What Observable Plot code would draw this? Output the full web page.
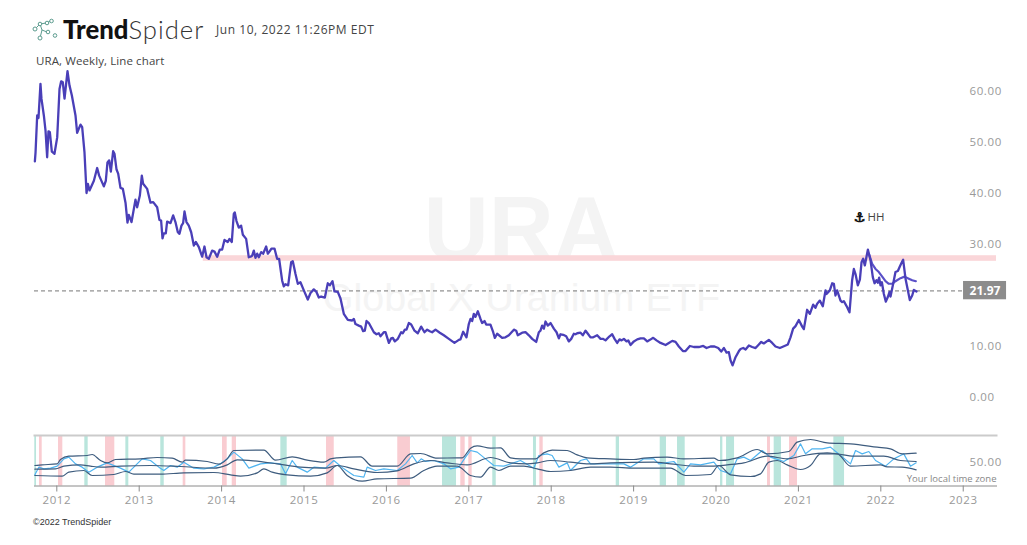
<!DOCTYPE html>
<html>
<head>
<meta charset="utf-8">
<script src="https://cdn.jsdelivr.net/npm/d3@7"></script>
<script src="https://cdn.jsdelivr.net/npm/@observablehq/plot@0.6"></script>
<style>
html,body{margin:0;padding:0;background:#fff;}
#page{position:relative;width:1027px;height:545px;overflow:hidden;font-family:"Open Sans",sans-serif;}
#page>*{position:absolute;}
#main{left:0;top:0;}
#panel{left:0;top:430px;}
#main svg,#panel svg{display:block;background:transparent;overflow:visible;}
#main svg g[aria-label="text"],#panel svg g[aria-label="text"]{letter-spacing:0;}
.brand{left:63px;top:13px;font-family:Lato,sans-serif;font-size:25.7px;line-height:32px;color:#111;white-space:nowrap;}
.brand b{font-weight:900;}
.brand span{font-weight:300;color:#333;letter-spacing:1px;}
.stamp{left:216px;top:21px;font-size:12px;line-height:18px;color:#444;letter-spacing:.55px;white-space:nowrap;}
.sym{left:36px;top:53px;font-size:11.5px;line-height:16px;color:#444;letter-spacing:.1px;white-space:nowrap;}
.copy{left:33px;top:516px;font-family:"Liberation Sans",sans-serif;font-size:9px;line-height:12px;color:#333;white-space:nowrap;}
</style>
</head>
<body>
<div id="page">
  <svg style="left:30px;top:16px" width="30" height="30" viewBox="0 0 30 30" fill="none" stroke="#5b9b8e" stroke-width="1">
    <path d="M5 13 L10 8 L12 14 L10 22 M12 14 L17 16 M10 8 L16 7 L21 5"/>
    <circle cx="5" cy="13" r="2" fill="#fff"/><circle cx="10" cy="8" r="1.8" fill="#fff"/><circle cx="10" cy="22" r="2" fill="#fff"/>
    <circle cx="17" cy="7" r="1.8" fill="#fff"/><circle cx="21.5" cy="5" r="1.8" fill="#fff"/><circle cx="18" cy="16" r="1.8" fill="#fff"/><circle cx="25" cy="19.5" r="1.8" fill="#fff"/>
  </svg>
  <div class="brand"><b>Trend</b><span>Spider</span></div>
  <div class="stamp">Jun 10, 2022 11:26PM EDT</div>
  <div class="sym">URA, Weekly, Line chart</div>
  <div id="main"></div>
  <div id="panel"></div>
  <div class="copy">©2022 TrendSpider</div>
</div>
<script>
const priceYears = [2011.746,2011.754,2011.774,2011.790,2011.814,2011.826,2011.855,2011.875,2011.895,2011.911,2011.928,2011.952,2011.984,2012.017,2012.045,2012.065,2012.085,2012.106,2012.142,2012.166,2012.195,2012.239,2012.259,2012.300,2012.320,2012.348,2012.373,2012.389,2012.409,2012.462,2012.502,2012.526,2012.583,2012.607,2012.627,2012.648,2012.668,2012.696,2012.712,2012.737,2012.757,2012.785,2012.814,2012.846,2012.870,2012.886,2012.919,2012.967,2012.987,2013.020,2013.044,2013.060,2013.109,2013.149,2013.182,2013.230,
2013.258,2013.278,2013.295,2013.311,2013.335,2013.351,2013.392,2013.424,2013.452,2013.481,2013.501,2013.525,2013.545,2013.562,2013.586,2013.614,2013.643,2013.675,2013.699,2013.736,2013.776,2013.804,2013.829,2013.857,2013.897,2013.926,2013.958,2013.990,2014.019,2014.047,2014.087,2014.108,2014.136,2014.160,2014.172,2014.193,2014.221,2014.249,2014.270,2014.310,2014.342,2014.363,2014.383,2014.403,2014.423,2014.444,2014.464,2014.492,2014.516,2014.553,2014.573,2014.597,2014.617,2014.654,2014.686,2014.710,2014.747,2014.767,2014.787,2014.820,2014.856,2014.876,2014.909,2014.937,2014.969,2015.010,2015.058,2015.091,2015.131,2015.163,2015.192,2015.220,2015.265,2015.301,2015.325,2015.358,2015.382,2015.422,2015.455,2015.495,
2015.544,2015.597,2015.617,2015.637,2015.677,2015.706,2015.730,2015.750,2015.771,2015.799,2015.860,2015.892,2015.920,2015.940,2015.981,2016.001,2016.042,2016.070,2016.090,2016.114,2016.151,2016.191,2016.211,2016.236,2016.256,2016.284,2016.313,2016.353,2016.393,2016.434,2016.474,2016.507,2016.539,2016.567,2016.608,2016.660,2016.709,2016.770,2016.838,2016.891,2016.911,2016.944,2016.984,2017.012,2017.033,2017.053,2017.073,2017.093,2017.122,2017.154,2017.174,2017.203,2017.223,2017.275,2017.308,2017.328,2017.356,2017.417,2017.457,2017.498,2017.559,2017.587,2017.607,2017.660,2017.700,2017.741,2017.781,2017.830,2017.862,2017.882,2017.902,2017.923,2017.943,2017.971,2018.004,2018.044,
2018.077,2018.105,2018.125,2018.158,2018.194,2018.226,2018.255,2018.287,2018.307,2018.328,2018.368,2018.396,2018.429,2018.457,2018.489,2018.522,2018.570,2018.611,2018.639,2018.671,2018.720,2018.752,2018.781,2018.813,2018.841,2018.866,2018.894,2018.926,2018.947,2018.975,2019.015,2019.056,2019.096,2019.137,2019.177,2019.210,2019.250,2019.290,2019.339,2019.400,2019.440,2019.481,2019.521,2019.561,2019.610,2019.642,2019.695,2019.743,2019.804,2019.857,2019.897,2019.946,2019.994,2020.039,2020.075,2020.108,2020.140,2020.168,2020.188,2020.213,2020.249,2020.290,2020.310,2020.342,2020.371,2020.411,2020.451,2020.492,2020.532,2020.561,
2020.592,2020.653,2020.694,2020.734,2020.787,2020.815,2020.843,2020.884,2020.916,2020.948,2020.977,2021.017,2021.058,2021.078,2021.118,2021.151,2021.191,2021.219,2021.240,2021.272,2021.308,2021.341,2021.353,2021.393,2021.422,2021.442,2021.462,2021.482,2021.523,2021.543,2021.563,2021.604,2021.632,2021.664,2021.685,2021.705,2021.733,2021.758,2021.778,2021.798,2021.818,2021.855,2021.887,2021.915,2021.936,2021.960,2021.976,2021.992,2022.008,2022.025,2022.049,2022.073,2022.097,2022.118,2022.130,2022.162,2022.190,2022.219,2022.243,2022.267,2022.283,2022.312,2022.364,2022.393,2022.413,2022.445];
const priceValues = [46.3,48.0,55.3,54.8,61.5,58.6,55.3,52.4,47.1,52.2,52.0,48.2,47.8,51.0,60.5,62.0,61.8,58.6,64.0,61.2,59.2,55.3,51.9,53.5,53.0,48.1,40.1,41.9,40.6,42.5,45.0,43.5,41.4,42.5,46.1,46.5,44.3,48.3,47.8,44.7,43.9,41.1,40.9,38.2,34.3,35.8,34.4,38.8,37.3,39.6,43.5,41.9,40.9,38.2,38.3,37.3,
34.8,34.7,31.2,32.2,32.2,34.5,34.2,35.7,34.4,32.4,32.1,33.7,34.2,36.5,34.4,33.7,32.4,29.8,30.5,29.5,27.6,29.6,27.5,27.2,28.8,28.6,27.6,29.0,29.0,30.9,30.5,31.1,30.5,36.0,36.3,34.6,33.3,33.7,31.9,31.1,27.5,27.6,27.8,28.8,27.4,28.2,27.5,28.5,28.2,29.6,28.2,28.7,29.2,29.2,27.2,27.2,22.9,21.8,22.2,22.0,26.5,26.7,24.2,22.3,22.6,21.0,19.2,20.5,21.2,20.7,19.6,19.8,19.6,22.4,22.0,22.8,20.8,20.7,19.4,16.4,
15.2,15.1,15.4,14.4,14.1,13.9,13.0,13.1,15.0,14.6,12.8,12.4,12.6,12.0,12.8,12.8,10.7,11.6,11.7,11.0,11.5,12.8,12.6,13.3,13.3,14.6,14.3,13.1,12.6,13.9,12.8,13.3,13.0,12.8,13.3,12.7,12.2,11.5,10.7,11.3,11.4,12.9,11.8,14.4,15.4,15.0,16.4,15.8,16.9,15.4,14.6,15.0,14.3,14.3,12.8,11.7,12.5,11.7,11.8,12.2,13.3,13.1,12.2,12.7,12.8,12.2,11.5,10.9,12.8,13.1,14.1,13.5,14.9,14.1,14.6,13.5,
12.8,11.6,12.4,12.3,12.0,11.0,11.5,12.5,12.4,12.6,12.7,12.2,13.1,12.5,11.8,11.8,12.2,11.5,11.5,11.2,12.0,12.4,11.5,10.7,11.4,11.2,11.5,11.0,11.2,10.3,11.0,11.4,11.6,11.6,11.0,11.3,11.7,11.2,10.7,10.3,10.7,11.1,10.9,10.0,9.1,9.1,10.1,9.9,9.9,10.1,9.7,10.0,10.0,9.7,9.0,9.7,8.8,8.9,7.3,6.3,7.9,9.1,9.5,9.7,9.4,10.2,9.9,9.7,10.4,10.9,
10.6,11.3,10.7,10.0,9.7,9.9,10.1,10.4,11.8,13.5,14.0,15.2,13.9,13.4,17.2,16.4,18.2,17.6,18.4,19.0,17.9,21.0,20.3,21.0,22.4,22.3,20.0,21.0,19.0,18.7,18.9,17.7,16.7,23.0,25.2,24.2,22.0,23.1,26.5,27.2,25.9,29.0,26.9,23.6,22.4,23.0,22.5,23.5,22.0,22.6,20.3,18.8,19.7,20.7,19.8,22.3,24.6,24.8,25.7,26.5,27.0,23.3,19.1,20.0,21.1,20.8];

const avgYears = [2021.867,2021.907,2021.948,2021.988,2022.029,2022.069,2022.109,2022.150,2022.190,2022.251,2022.300,2022.352,2022.393,2022.437];
const avgValues = [28.2,26.2,25.2,24.6,23.7,22.8,22.3,22.3,22.8,23.4,23.7,23.3,23.0,22.8];

const yearTicks = [2012,2013,2014,2015,2016,2017,2018,2019,2020,2021,2022,2023];
const priceTicks = [0,10,30,40,50,60];
const levelLow = 26.7, levelHigh = 27.8, levelStart = 2013.79;
const lastDrawn = 20.9, lastLabel = "21.97";

const upperYears = [2011.746,2011.835,2012.017,2012.057,2012.158,2012.381,2012.441,2012.543,2012.623,2012.725,2013.028,2013.230,2013.412,2013.534,2013.574,2013.837,2013.979,2014.080,2014.161,2014.525,2014.666,2014.869,2015.051,2015.253,2015.334,2015.415,2015.698,2015.840,2016.143,2016.305,2016.426,2016.628,2016.871,2016.932,2017.033,2017.114,2017.276,2017.397,2017.518,2017.639,2017.821,2017.922,2018.024,2018.206,2018.327,2018.448,2018.732,2019.015,2019.136,2019.419,2019.622,2019.986,2020.046,2020.269,2020.512,2020.633,2020.896,2020.997,2021.159,2021.361,2021.644,2021.968,2022.129,2022.271,2022.441];
const upperValues = [44,45.3,47.3,56,62.7,64,66,54,49.3,56,57.3,60,58.7,50.7,54.7,52,46.7,57.3,74,74.7,54.7,61.3,54.7,50.7,57.3,59.3,61.3,42.7,42.7,67.3,68,58.7,59.3,59.3,78.7,83.3,78.7,79.3,59.3,57.3,57.3,69.3,74.7,74,65.3,59.3,57.3,56,58.7,60.7,57.3,58.7,54,59.3,76,67.3,72,90.7,96,89.3,87.3,80.7,77.3,67.3,68.7];
const middleYears = [2011.746,2011.996,2012.098,2012.300,2012.421,2012.543,2012.785,2013.149,2013.513,2013.918,2014.080,2014.201,2014.403,2014.687,2014.970,2015.273,2015.415,2015.617,2015.900,2016.143,2016.345,2016.547,2016.750,2016.992,2017.276,2017.518,2017.720,2017.842,2018.003,2018.246,2018.469,2018.732,2019.257,2019.460,2019.743,2019.986,2020.147,2020.350,2020.633,2020.876,2021.078,2021.361,2021.482,2021.685,2022.049,2022.251,2022.441];
const middleValues = [36.7,37.3,42.7,45.3,42.7,40.7,42.7,44,42,38.7,45.3,55.3,53.3,47.3,40.7,38.7,44,37.3,30,33.3,47.3,54,49.3,45.3,60,49.3,47.3,49.3,54,50.7,47.3,49.3,50.7,47.3,42.7,42.7,45.3,49.3,62.7,57.3,64,69.3,67.3,62.7,62.7,54,52];
const lowerYears = [2011.746,2012.077,2012.158,2012.340,2012.441,2012.704,2012.846,2012.947,2013.271,2013.554,2013.918,2014.120,2014.242,2014.444,2014.525,2014.626,2014.808,2015.091,2015.293,2015.415,2015.536,2015.718,2015.900,2016.305,2016.466,2016.628,2016.871,2017.033,2017.154,2017.276,2017.377,2017.518,2017.680,2017.842,2018.003,2018.246,2018.489,2018.732,2019.015,2019.460,2019.642,2019.945,2020.046,2020.188,2020.431,2020.552,2020.653,2020.754,2020.876,2021.037,2021.159,2021.280,2021.482,2021.644,2022.008,2022.089,2022.271,2022.441];
const lowerValues = [24,22.7,30.7,34,24,26,32,26.7,26.7,29.3,30,25.3,22.7,29.3,37.3,30.7,25.3,22.7,29.3,44,24,12.7,17.3,18.7,34,42.7,42.7,24,20.7,40.7,34,42.7,42.7,37.3,32,34,40.7,40.7,38.7,38.7,24,26,44,25.3,22,27.3,50.7,54,45.3,36,44,67.3,67.3,42.7,45.3,41.3,40.7,35.3];
const rsiYears = [2011.746,2011.794,2011.855,2011.936,2012.017,2012.098,2012.158,2012.239,2012.320,2012.401,2012.502,2012.623,2012.684,2012.785,2012.886,2013.048,2013.149,2013.251,2013.311,2013.392,2013.473,2013.554,2013.675,2013.797,2013.918,2013.999,2014.080,2014.161,2014.262,2014.343,2014.484,2014.606,2014.727,2014.788,2014.869,2014.929,2015.051,2015.132,2015.273,2015.374,2015.496,2015.617,2015.738,2015.779,2015.880,2015.981,2016.143,2016.244,2016.325,2016.386,2016.434,2016.487,2016.588,2016.709,2016.790,2016.891,2016.972,2017.033,2017.114,2017.215,2017.316,2017.437,2017.518,2017.639,2017.801,2017.862,2017.963,2018.024,2018.105,2018.206,2018.246,2018.367,2018.440,2018.489,2018.732,2018.893,2018.974,2019.136,2019.257,2019.318,2019.500,2019.622,2019.702,2019.824,2019.986,2020.067,2020.188,2020.269,2020.350,2020.431,2020.572,2020.673,2020.835,2020.957,2021.037,2021.098,2021.179,2021.300,2021.401,2021.523,2021.644,2021.705,2021.786,2021.867,2021.948,2022.069,2022.170,2022.251,2022.291,2022.372,2022.441];
const rsiValues = [25.3,40.7,37.3,38.7,42.7,57.3,60.7,47.3,40.7,30.7,40.7,49.3,45.3,38.7,30.7,57.3,54,40.7,34,44,40.7,50.7,38.7,37.3,40.7,47.3,57.3,70.7,57.3,38.7,47.3,49.3,47.3,27.3,54,40.7,30.7,40.7,38.7,54,37.3,24,20.7,40.7,34,37.3,34,47.3,64,49.3,57.3,52,54,47.3,37.3,40.7,60.7,74,70.7,57.3,44,42.7,47.3,54,38.7,64,67.3,64,40.7,49.3,34,54,57.3,47.3,47.3,47.3,40.7,57.3,57.3,47.3,52,30.7,47.3,45.3,50.7,34,27.3,57.3,60.7,54,74,60.7,52,64,87.3,67.3,77.3,77.3,80.7,64,47.3,74,67.3,72,54,42.7,57.3,64,67.3,42.7,49.3];

const pinkStart = [2011.802,2012.033,2012.603,2013.546,2014.023,2014.141,2015.285,2016.150,2016.915,2017.012,2017.874,2020.637,2020.904];
const pinkEnd   = [2011.835,2012.085,2012.716,2013.578,2014.080,2014.193,2015.379,2016.304,2016.968,2017.053,2017.915,2020.673,2021.001];
const greenStart = [2011.745,2012.352,2012.850,2013.274,2014.731,2016.693,2017.303,2017.797,2018.801,2019.335,2019.545,2020.067,2020.140,2020.718,2021.442];
const greenEnd   = [2011.766,2012.393,2012.886,2013.316,2014.808,2016.863,2017.345,2017.833,2018.841,2019.411,2019.638,2020.095,2020.237,2020.806,2021.572];

const oscTicks = [50];
const xDomain = [2011.7415, 2023.416];
const xRange = [34, 996];
const axisFont = {fontFamily:"'Open Sans',sans-serif", fontSize:"11.5px", color:"#999", letterSpacing:".6px"};

const main = Plot.plot({
  width:1027, height:430, margin:0, marginRight:31, marginLeft:34,
  style:{background:"transparent", ...axisFont},
  x:{domain:xDomain, range:xRange, axis:null},
  y:{domain:[0,60], range:[397,91], axis:null},
  marks:[
    Plot.text(["URA"],{x:[2017.65], y:[32.7], fontSize:90, fontWeight:700, fontFamily:"Liberation Sans", fill:"#f4f4f4"}),
    Plot.text(["Global X Uranium ETF"],{x:[2017.65], y:[19.4], fontSize:39.5, fontFamily:"Liberation Sans", fill:"#f4f4f4"}),
    Plot.rect([0],{x1:[levelStart], x2:[xDomain[1]], y1:[levelLow], y2:[levelHigh], fill:"#fad2d6", fillOpacity:.92}),
    Plot.ruleY([lastDrawn],{x1:xDomain[0], x2:2023.02, stroke:"#777", strokeWidth:1, strokeDasharray:"4,3"}),
    Plot.line(avgValues,{x:avgYears, y:avgValues, stroke:"#5a50c8", strokeWidth:2.2}),
    Plot.line(priceValues,{x:priceYears, y:priceValues, stroke:"#4a3fb8", strokeWidth:2.3}),
    Plot.axisY({ticks:priceTicks, anchor:"right", tickSize:0, tickPadding:-27, tickFormat:d=>d.toFixed(2), label:null, fill:"#999"}),
    Plot.rect([0],{x1:[2023.016], x2:[2023.538], y1:[19.16], y2:[22.75], fill:"#8c8c8c"}),
    Plot.text([lastLabel],{x:[2023.277], y:[lastDrawn], fill:"#fff", fontWeight:700, fontSize:12}),
    Plot.text(["⚓"],{x:[2021.754], y:[35.3], fill:"#111", stroke:"#111", strokeWidth:.7, fontSize:13, fontFamily:"DejaVu Sans"}),
    Plot.text(["HH"],{x:[2021.85], y:[35.3], textAnchor:"start", fill:"#444", fontSize:11.5})
  ]
});
document.getElementById("main").append(main);

const panel = Plot.plot({
  width:1027, height:90, marginTop:5, marginBottom:34.5, marginLeft:34, marginRight:31,
  style:{background:"transparent", ...axisFont},
  x:{domain:xDomain, range:xRange, axis:null},
  y:{domain:[0,100], range:[57,7], axis:null},
  marks:[
    Plot.rect(pinkStart,{x1:pinkStart, x2:pinkEnd, fill:"#f9ccd1"}),
    Plot.rect(greenStart,{x1:greenStart, x2:greenEnd, fill:"#b9e5dc"}),
    Plot.frame({anchor:"top", stroke:"#cbcbcb", strokeWidth:2}),
    Plot.frame({anchor:"bottom", stroke:"#8a8a8a", strokeWidth:1}),
    Plot.line(rsiValues,{x:rsiYears, y:rsiValues, stroke:"#4fb4f0", strokeWidth:1.2}),
    Plot.line(upperValues,{x:upperYears, y:upperValues, stroke:"#3e5c7e", strokeWidth:1.2, curve:"monotone-x"}),
    Plot.line(middleValues,{x:middleYears, y:middleValues, stroke:"#3e5c7e", strokeWidth:1.2, curve:"monotone-x"}),
    Plot.line(lowerValues,{x:lowerYears, y:lowerValues, stroke:"#3e5c7e", strokeWidth:1.2, curve:"monotone-x"}),
    Plot.axisX({ticks:yearTicks, tickFormat:d=>String(d), tickSize:6, tickPadding:4, label:null, stroke:"#8a8a8a", fill:"#999", dx:1}),
    Plot.axisY({ticks:oscTicks, anchor:"right", tickSize:0, tickPadding:-27, tickFormat:d=>d.toFixed(2), label:null, fill:"#999"}),
    Plot.text(["Your local time zone"],{x:[xDomain[1]], y:[18], textAnchor:"end", fill:"#888", fontSize:9.5})
  ]
});
document.getElementById("panel").append(panel);
</script>
</body>
</html>
